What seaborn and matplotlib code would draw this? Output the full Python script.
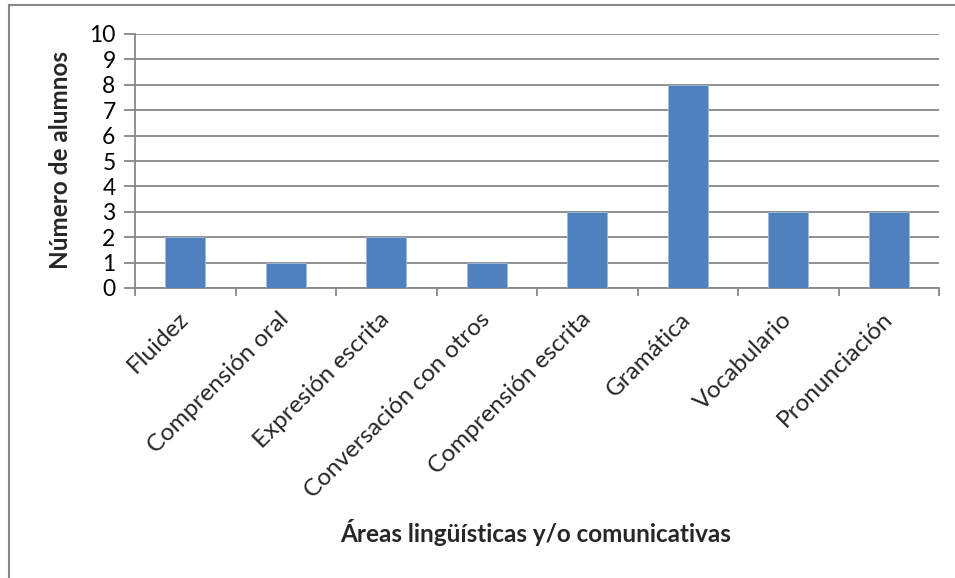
import matplotlib
matplotlib.use("Agg")
import matplotlib.pyplot as plt
from matplotlib.patches import Rectangle
import seaborn as sns
import pandas as pd

categories = ["Fluidez", "Comprensión oral", "Expresión escrita",
              "Conversación con otros", "Comprensión escrita", "Gramática",
              "Vocabulario", "Pronunciación"]
alumnos = [2, 1, 2, 1, 3, 8, 3, 3]
y_ticks = list(range(0, 11))

sns.set_theme(style="white")
plt.rcParams["font.family"] = ["Lato", "DejaVu Sans"]

df = pd.DataFrame({"area": categories, "n": alumnos})

W, H = 955, 578
fig = plt.figure(figsize=(W / 100, H / 100), dpi=100)
ax = fig.add_axes([135 / W, 1 - 288 / H, (939 - 135) / W, (288 - 34) / H])

grid_c = "#878787"
bar_c = "#4F81BD"

sns.barplot(data=df, x="area", y="n", ax=ax, color=bar_c, width=0.4,
            saturation=1, edgecolor="#9DB9DD", linewidth=0.6, zorder=3)

ax.set_xlim(-0.5, len(categories) - 0.5)
ax.set_ylim(0, 10)
ax.set_yticks(y_ticks)
ax.set_yticklabels([str(t) for t in y_ticks], fontsize=16.5, color="black")
ax.yaxis.grid(True, color=grid_c, linewidth=1.3, zorder=0)
ax.xaxis.grid(False)

# category boundaries carry the x tick marks
bounds = [i - 0.5 for i in range(len(categories) + 1)]
ax.set_xticks(bounds)
ax.set_xticklabels([])
ax.tick_params(axis="x", which="major", length=6, width=1.3, color=grid_c,
               direction="out", bottom=True)
ax.tick_params(axis="y", length=8, width=1.3, color=grid_c, direction="out",
               left=True, pad=6)
ax.set_xticks(range(len(categories)), minor=True)
ax.set_xticklabels(categories, minor=True, rotation=45, ha="right",
                   va="center", rotation_mode="anchor", fontsize=17.5)
ax.tick_params(axis="x", which="minor", length=0, pad=20)

for side in ["top", "right"]:
    ax.spines[side].set_visible(False)
for side in ["left", "bottom"]:
    ax.spines[side].set_color(grid_c)
    ax.spines[side].set_linewidth(1.3)

ax.set_xlabel("")
ax.set_ylabel("")
fig.text(60 / W, 1 - 160 / H, "Número de alumnos", rotation=90,
         ha="center", va="center", fontsize=17.5, fontweight="bold")
fig.text(536 / W, 1 - 533 / H, "Áreas lingüísticas y/o comunicativas",
         ha="center", va="center", fontsize=17.5, fontweight="bold")

# chart-area frame
fig.patches.append(Rectangle((9 / W, -0.1), 1.2, 1 - 5 / H + 0.1,
                             transform=fig.transFigure, fill=False,
                             edgecolor="#888888", linewidth=1.5))

fig.savefig("out.png", dpi=100)
